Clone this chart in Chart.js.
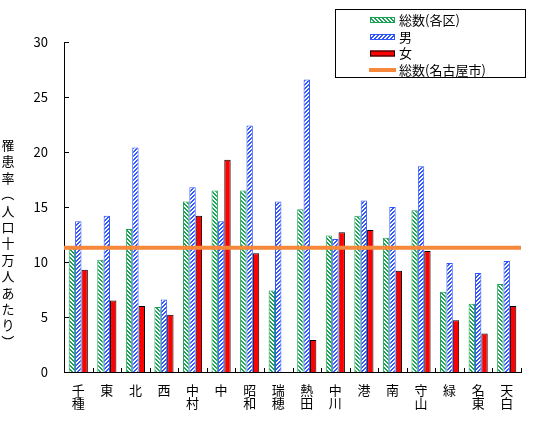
<!DOCTYPE html>
<html>
<head>
<meta charset="utf-8">
<script src="https://cdn.jsdelivr.net/npm/chart.js@4.4.0/dist/chart.umd.min.js"></script>
<style>
  body { margin: 0; background: #fff; }
  #chart { display: block; }
</style>
</head>
<body>
<canvas id="chart" width="544" height="434"></canvas>
<script>
// 区別の罹患率（人口十万人あたり）
var wards = [['千', '種'], '東', '北', '西', ['中', '村'], '中', ['昭', '和'], ['瑞', '穂'],
             ['熱', '田'], ['中', '川'], '港', '南', ['守', '山'], '緑', ['名', '東'], ['天', '白']];
var totalByWard = [11.4, 10.2, 13.0, 5.9, 15.5, 16.5, 16.5, 7.4, 14.8, 12.4, 14.2, 12.2, 14.7, 7.3, 6.2, 8.0];
var male = [13.7, 14.2, 20.4, 6.6, 16.8, 13.7, 22.4, 15.5, 26.6, 12.1, 15.6, 15.0, 18.7, 9.9, 9.0, 10.1];
var female = [9.3, 6.5, 6.0, 5.2, 14.2, 19.3, 10.8, 0, 2.9, 12.7, 12.9, 9.2, 11.0, 4.7, 3.5, 6.0];
var cityTotal = 11.3;
var yTicks = [0, 5, 10, 15, 20, 25, 30];

var seriesNames = ['総数(各区)', '男', '女', '総数(名古屋市)'];
var yTitle = '罹患率（人口十万人あたり）';

var FONT = '"Noto Sans CJK JP", sans-serif';
var GREEN = '#1aa355';
var BLUE = '#2f55ff';
var ORANGE = '#f5883a';

// stripe patterns like the hatched fills
function stripes(color, dir) {
    var c = document.createElement('canvas');
    c.width = 4; c.height = 4;
    var g = c.getContext('2d');
    g.fillStyle = '#fff';
    g.fillRect(0, 0, 4, 4);
    g.fillStyle = color;
    for (var y = 0; y < 4; y++) {
        for (var x = 0; x < 4; x++) {
            var k = dir > 0 ? (x + y) % 4 : ((x - y) % 4 + 4) % 4;
            if (k < 2) g.fillRect(x, y, 1, 1);
        }
    }
    return g.createPattern(c, 'repeat');
}
var ctx0 = document.getElementById('chart').getContext('2d');
var greenPat = stripes(GREEN, -1);
var bluePat = stripes(BLUE, 1);

// city-wide total as a horizontal line over the bars
var cityLine = {
    id: 'cityLine',
    afterDatasetsDraw: function(chart) {
        var ctx = chart.ctx, area = chart.chartArea;
        var py = chart.scales.y.getPixelForValue(cityTotal);
        ctx.save();
        ctx.strokeStyle = ORANGE;
        ctx.lineWidth = 4;
        ctx.beginPath();
        ctx.moveTo(area.left, py);
        ctx.lineTo(area.right, py);
        ctx.stroke();
        ctx.restore();
    }
};

// ticks inside the axes, vertical title, boxed legend
var decor = {
    id: 'decor',
    afterDraw: function(chart) {
        var ctx = chart.ctx;
        var xs = chart.scales.x, ys = chart.scales.y;
        var area = chart.chartArea;
        ctx.save();
        ctx.strokeStyle = '#000';
        ctx.lineWidth = 1;
        ctx.beginPath();
        yTicks.forEach(function(v) {
            var py = Math.round(ys.getPixelForValue(v)) + 0.5;
            ctx.moveTo(area.left, py);
            ctx.lineTo(area.left + 5, py);
        });
        var step = (area.right - area.left) / wards.length;
        for (var i = 1; i <= wards.length; i++) {
            var px = Math.round(xs.getPixelForValue(i - 1) + step / 2) + 0.5;
            ctx.moveTo(px, area.bottom);
            ctx.lineTo(px, area.bottom - 4);
        }
        ctx.stroke();

        // y title, written top to bottom
        ctx.fillStyle = '#000';
        ctx.font = '13px ' + FONT;
        ctx.textAlign = 'center';
        ctx.textBaseline = 'middle';
        Array.from(yTitle).forEach(function(ch, i) {
            var cy = 145 + i * 16.4;
            if (ch === '（' || ch === '）') {
                ctx.save();
                ctx.translate(8, cy);
                ctx.rotate(Math.PI / 2);
                ctx.fillText(ch, 0, 0);
                ctx.restore();
            } else {
                ctx.fillText(ch, 8, cy);
            }
        });

        // legend
        ctx.strokeRect(335.5, 9.5, 190, 68);
        var rows = [20, 37, 53.5, 70];
        var fills = [greenPat, bluePat, '#ff0000'];
        var edges = [GREEN, BLUE, '#000'];
        for (var r = 0; r < 3; r++) {
            ctx.fillStyle = fills[r];
            ctx.fillRect(370, rows[r] - 3, 25, 6);
            ctx.strokeStyle = edges[r];
            ctx.strokeRect(370.5, rows[r] - 2.5, 24, 5);
        }
        ctx.strokeStyle = ORANGE;
        ctx.lineWidth = 4;
        ctx.beginPath();
        ctx.moveTo(369, rows[3]);
        ctx.lineTo(396, rows[3]);
        ctx.stroke();
        ctx.fillStyle = '#000';
        ctx.textAlign = 'left';
        ctx.font = '13px ' + FONT;
        seriesNames.forEach(function(t, i) {
            ctx.fillText(t, 399, rows[i]);
        });
        ctx.restore();
    }
};

new Chart(ctx0, {
    type: 'bar',
    data: {
        labels: wards,
        datasets: [
            {
                label: seriesNames[0],
                data: totalByWard,
                backgroundColor: greenPat,
                borderColor: GREEN,
                borderWidth: 1
            },
            {
                label: seriesNames[1],
                data: male,
                backgroundColor: bluePat,
                borderColor: BLUE,
                borderWidth: 1
            },
            {
                label: seriesNames[2],
                data: female,
                backgroundColor: '#ff0000',
                borderColor: '#000',
                borderWidth: 1
            }
        ]
    },
    options: {
        responsive: false,
        animation: false,
        layout: {
            padding: { top: 42, right: 23, bottom: 0, left: 0 }
        },
        datasets: {
            bar: {
                categoryPercentage: 0.67,
                barPercentage: 1.0
            }
        },
        scales: {
            x: {
                grid: { display: false, drawTicks: false },
                border: { display: true, color: '#000', width: 1 },
                ticks: {
                    color: '#000',
                    font: { family: FONT, size: 13, lineHeight: 1.05 },
                    padding: 11,
                    maxRotation: 0,
                    autoSkip: false
                },
                afterFit: function(scale) { scale.height = 62; }
            },
            y: {
                min: 0,
                max: 30,
                grid: { display: false, drawTicks: false },
                border: { display: true, color: '#000', width: 1 },
                ticks: {
                    stepSize: 5,
                    color: '#000',
                    font: { family: FONT, size: 13 },
                    padding: 16
                },
                afterFit: function(scale) { scale.width = 64; }
            }
        },
        plugins: {
            legend: { display: false },
            tooltip: { enabled: false }
        }
    },
    plugins: [cityLine, decor]
});
</script>
</body>
</html>
